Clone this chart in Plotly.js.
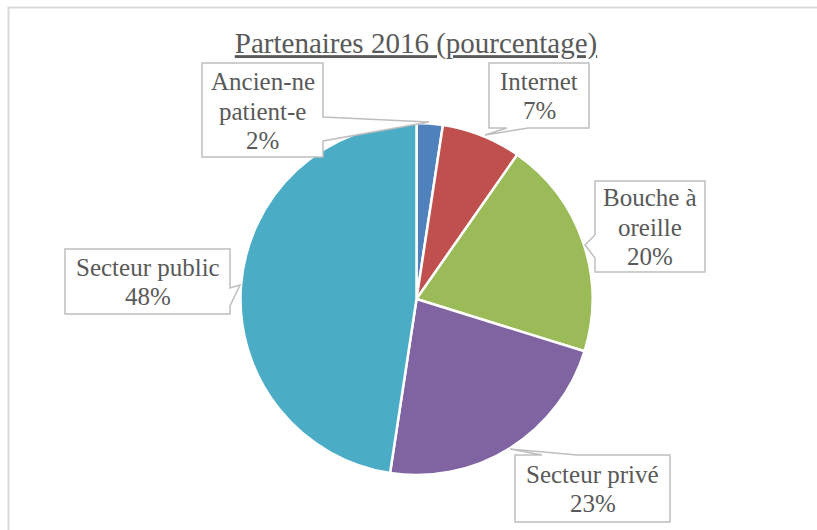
<!DOCTYPE html>
<html>
<head>
<meta charset="utf-8">
<script src="https://cdn.plot.ly/plotly-3.0.1.min.js"></script>
<style>html,body{margin:0;padding:0;background:#fff;}#chart{width:817px;height:530px;}</style>
</head>
<body>
<div id="chart"></div>
<script>
const categories = ["Ancien-ne<br>patient-e", "Internet", "Bouche à<br>oreille", "Secteur privé", "Secteur public"];
const values = [2.4, 7.3, 20.1, 22.6, 47.6];
const colors = ["#4F81BD", "#C0504D", "#9BBB59", "#8064A2", "#4BACC6"];
const chartTitle = "Partenaires 2016 (pourcentage)";

const W = 817, H = 530;
const px = x => x / W;
const py = y => 1 - y / H;
const path = pts => pts.map((p, i) => (i ? "L" : "M") + px(p[0]).toFixed(5) + "," + py(p[1]).toFixed(5)).join(" ") + " Z";

// callout boxes (decoration geometry), label centers
const callouts = [
  {c: [262.5, 111], pts: [[202,63],[323,63],[323,117],[429,122],[323,141],[323,157],[202,157]]},
  {c: [539, 96], pts: [[489,63],[589,63],[589,128],[528,128],[485,135],[507,128],[489,128]]},
  {c: [650, 227], pts: [[595,181],[705,181],[705,272],[595,272],[595,258],[585,245],[595,235]]},
  {c: [592.5, 489], pts: [[515,455],[542,455],[510,449],[577,455],[670,455],[670,522],[515,522]]},
  {c: [147.5, 282], pts: [[65,249],[230,249],[230,288],[240,285],[230,306],[230,314],[65,314]]}
];
const lineStep = 29.5;

const total = values.reduce((a, b) => a + b, 0);

const shapes = [
  {type: "rect", xref: "paper", yref: "paper", x0: px(8.5), x1: 1.05, y0: py(7.5), y1: -0.05,
   line: {color: "#D9D9D9", width: 2}, fillcolor: "rgba(0,0,0,0)", layer: "below"}
];
const annotations = [];
callouts.forEach((co, i) => {
  shapes.push({type: "path", xref: "paper", yref: "paper", path: path(co.pts),
    fillcolor: "#FFFFFF", line: {color: "#BFBFBF", width: 1.5}, layer: "above"});
  const pct = Math.round(values[i] / total * 100);
  const lines = categories[i].split("<br>").concat([pct + "%"]);
  lines.forEach((ln, k) => {
    const yc = co.c[1] + (k - (lines.length - 1) / 2) * lineStep;
    annotations.push({xref: "paper", yref: "paper", x: px(co.c[0]), y: py(yc),
      xanchor: "center", yanchor: "middle", showarrow: false, align: "center",
      text: ln,
      font: {family: "Liberation Serif, serif", size: 25, color: "#595959"}});
  });
});

const data = [{
  type: "pie",
  labels: categories.map(s => s.replace("<br>", " ")),
  values: values,
  sort: false,
  direction: "clockwise",
  rotation: 0,
  marker: {colors: colors, line: {color: "#FFFFFF", width: 2.5}},
  textinfo: "none",
  hoverinfo: "label+percent",
  domain: {x: [px(240.5), px(592.5)], y: [py(475), py(123)]}
}];

const layout = {
  width: W, height: H,
  margin: {l: 0, r: 0, t: 0, b: 0},
  paper_bgcolor: "#FFFFFF",
  showlegend: false,
  title: {
    text: '<span style="text-decoration:underline">' + chartTitle + '</span>',
    x: px(416), xanchor: "center", y: py(43), yanchor: "middle",
    font: {family: "Liberation Serif, serif", size: 29, color: "#595959"}
  },
  shapes: shapes,
  annotations: annotations
};

Plotly.newPlot("chart", data, layout, {displayModeBar: false, staticPlot: true});
</script>
</body>
</html>
